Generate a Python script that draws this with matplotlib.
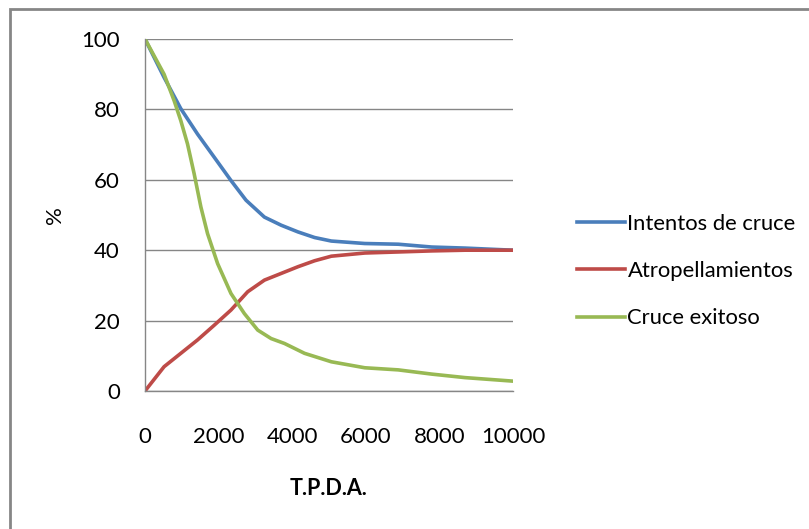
import matplotlib
matplotlib.use("Agg")
import matplotlib.pyplot as plt
from matplotlib.patches import Rectangle

plt.rcParams['font.family'] = ['Lato', 'DejaVu Sans']

# curves (T.P.D.A. vs %)
x_intentos = [0, 518, 973, 1427, 1882, 2336, 2745, 3245, 3700, 4155, 4609, 5064, 5973, 6882, 7791, 8700, 10000]
intentos = [100, 89.1, 80.2, 73, 66.4, 59.8, 54.2, 49.4, 47.1, 45.2, 43.6, 42.6, 41.9, 41.7, 40.9, 40.6, 40.0]

x_atrop = [0, 518, 1427, 1882, 2336, 2791, 3245, 3700, 4155, 4609, 5064, 5973, 6882, 7791, 8700, 10000]
atrop = [0, 6.9, 14.5, 18.7, 23, 28.2, 31.5, 33.4, 35.3, 37, 38.3, 39.2, 39.5, 39.8, 40, 40]

x_exitoso = [0, 518, 791, 973, 1155, 1336, 1518, 1700, 1973, 2336, 2700, 3064, 3427, 3791, 4336, 5064, 5973, 6882, 7791, 8700, 10000]
exitoso = [100, 90, 82.5, 76.8, 70.2, 61.7, 52.3, 44.7, 36.2, 27.7, 22, 17.3, 14.9, 13.5, 10.7, 8.3, 6.6, 6.0, 4.8, 3.8, 2.8]

labels = ["Intentos de cruce", "Atropellamientos", "Cruce exitoso"]
colors = ["#4A7EBB", "#BE4B48", "#98B954"]

W, H = 809, 529
fig = plt.figure(figsize=(W / 100, H / 100), dpi=100)
ax = fig.add_axes([145 / W, (H - 391) / H, (513 - 145) / W, (391 - 39) / H])

ax.plot(x_intentos, intentos, color=colors[0], lw=2.6, label=labels[0])
ax.plot(x_atrop, atrop, color=colors[1], lw=2.6, label=labels[1])
ax.plot(x_exitoso, exitoso, color=colors[2], lw=2.6, label=labels[2])

ax.set_xlim(0, 10000)
ax.set_ylim(0, 100)
ax.set_xticks(range(0, 10001, 2000))
ax.set_yticks(range(0, 101, 20))
ax.tick_params(length=0, labelsize=16, colors="black")
ax.tick_params(axis="y", pad=18)
ax.tick_params(axis="x", pad=26)
ax.grid(axis="y", color="#868686", lw=1)
ax.set_axisbelow(True)
for s in ["top", "right"]:
    ax.spines[s].set_visible(False)
for s in ["left", "bottom"]:
    ax.spines[s].set_color("#868686")
    ax.spines[s].set_linewidth(1)

ax.set_ylabel("%", fontsize=16, labelpad=12)
ax.set_xlabel("T.P.D.A.", fontsize=15.5, fontweight="bold", labelpad=22)

fig.legend(loc="center left", bbox_to_anchor=(577 / W, (H - 271) / H), frameon=False,
           fontsize=15.8, handlelength=2.2, handletextpad=0.1, labelspacing=1.25,
           borderpad=0, borderaxespad=0)

# outer chart border (cut off at right and bottom)
fig.patches.append(Rectangle((9.5 / W, -0.1), 1.2, 1.1 - 8.5 / H, transform=fig.transFigure,
                             fill=False, edgecolor="#868686", lw=2))

fig.savefig("out.png", dpi=100)
